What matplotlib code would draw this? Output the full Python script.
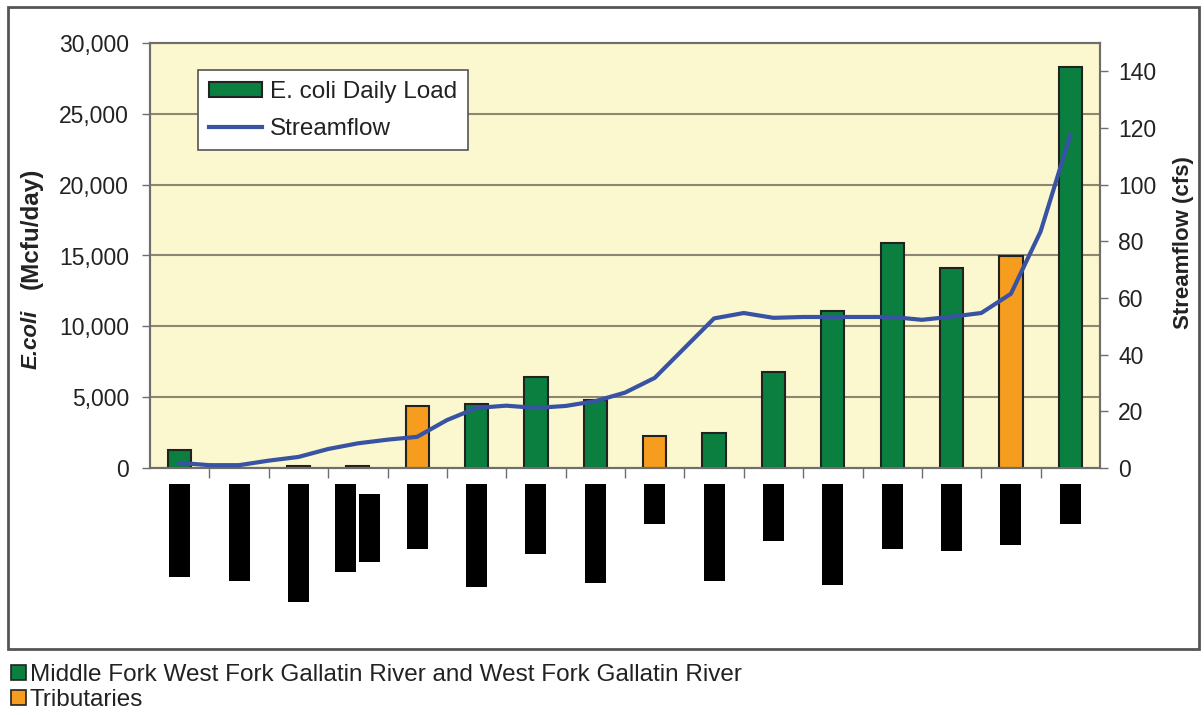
import matplotlib
matplotlib.use('Agg')
import matplotlib.pyplot as plt
from matplotlib.patches import Patch, Rectangle
from matplotlib.lines import Line2D
from matplotlib.ticker import FuncFormatter, FixedLocator

plt.rcParams['font.family'] = ['Liberation Sans', 'DejaVu Sans']

# ---------------- data ----------------
# site names are redacted (black blocks) in the source
site_index = [0, 1, 2, 3, 4, 5, 6, 7, 8, 9, 10, 11, 12, 13, 14, 15]
ecoli_load = [1300, 0, 150, 150, 4400, 4500, 6400, 4800, 2250, 2500,
              6800, 11100, 15850, 14150, 14950, 28300]
site_group = ['main', 'main', 'main', 'main', 'trib', 'main', 'main', 'main',
              'trib', 'main', 'main', 'main', 'main', 'main', 'trib', 'main']
flow_pos = [0, 0.5, 1, 1.5, 2, 2.5, 3, 3.5, 4, 4.5, 5, 5.5, 6, 6.5, 7, 7.5,
            8, 8.5, 9, 9.5, 10, 10.5, 11, 11.5, 12, 12.5, 13, 13.5, 14, 14.5, 15]
streamflow = [1.8, 1.0, 1.0, 2.6, 3.9, 6.7, 8.7, 10.0, 11.0, 16.9, 21.2, 22.0,
              21.2, 21.9, 23.6, 26.6, 31.8, 42.3, 52.8, 54.7, 53.0, 53.3, 53.3,
              53.3, 53.3, 52.3, 53.4, 54.7, 61.5, 83.5, 117.5]
# redacted label block lengths (rotated label text lengths)
label_len = [93, 97, 118, 88, 65, 103, 70, 99, 40, 97, 57, 101, 65, 67, 61, 40]
label2_site = [3]
label2_offset = [10]
label2_len = [68]

left_ticks = [0, 5000, 10000, 15000, 20000, 25000, 30000]
right_ticks = [0, 20, 40, 60, 80, 100, 120, 140]

GREEN = '#0B7F3F'
ORANGE = '#F69C1E'
BLUE = '#3953A4'
BG = '#FBF8D0'
GRID = '#8C8672'
SPINE = '#6E6E6E'
TXT = '#222222'

W, H = 1204, 715
fig = plt.figure(figsize=(W / 100, H / 100), dpi=100)

def fx(px):
    return px / W

def fy(py):
    return 1 - py / H

# outer frame
fig.patches.append(Rectangle((fx(8), fy(649)), fx(1199) - fx(8), fy(7) - fy(649),
                             transform=fig.transFigure, fill=False,
                             edgecolor='#555555', linewidth=2, zorder=0))

ax = fig.add_axes([fx(150), fy(468), fx(1100) - fx(150), fy(43) - fy(468)])
ax.set_facecolor(BG)
colors = [GREEN if g == 'main' else ORANGE for g in site_group]
ax.bar(site_index, ecoli_load, width=0.39, color=colors, edgecolor='#222222',
       linewidth=1.5, zorder=3)
ax.set_xlim(-0.5, 15.5)
ax.set_ylim(0, 30000)
ax.yaxis.set_major_locator(FixedLocator(left_ticks))
ax.yaxis.set_major_formatter(FuncFormatter(lambda v, p: f'{int(v):,}'))
ax.grid(axis='y', color=GRID, linewidth=1.5, zorder=1)
ax.set_axisbelow(True)
ax.set_xticks([])
ax.set_xticks([i + 0.5 for i in site_index[:-1]], minor=True)
ax.tick_params(axis='x', which='minor', length=7, width=1, color=SPINE)
ax.tick_params(axis='y', labelsize=16.5, length=6, width=1, color=SPINE,
               pad=9, labelcolor=TXT)
for s in ax.spines.values():
    s.set_color(SPINE)
    s.set_linewidth(1.5)

ax2 = ax.twinx()
ax2.plot(flow_pos, streamflow, color=BLUE, linewidth=3, zorder=5)
ax2.set_ylim(0, 150)
ax2.yaxis.set_major_locator(FixedLocator(right_ticks))
ax2.tick_params(axis='y', labelsize=16.5, length=6, width=1, color=SPINE,
                pad=7, labelcolor=TXT)
for s in ax2.spines.values():
    s.set_color(SPINE)
    s.set_linewidth(1.5)

handles = [Patch(facecolor=GREEN, edgecolor='#222222', linewidth=1.5),
           Line2D([], [], color=BLUE, linewidth=3)]
leg = ax2.legend(handles, ['E. coli Daily Load', 'Streamflow'],
                 loc='upper left', bbox_to_anchor=(0.0505, 0.9365),
                 fontsize=17.5, frameon=True, fancybox=False, framealpha=1,
                 edgecolor='#555555', handlelength=2.2, handleheight=0.55,
                 labelspacing=0.6, handletextpad=0.3, borderpad=0.45,
                 borderaxespad=0)
leg.get_frame().set_linewidth(1.2)
for t in leg.get_texts():
    t.set_color(TXT)

# axis titles
fig.text(fx(31), fy(339), 'E.coli', rotation=90, ha='center', va='center',
         fontsize=16, fontweight='bold', fontstyle='italic', color=TXT)
fig.text(fx(31), fy(228), '(Mcfu/day)', rotation=90, ha='center', va='center',
         fontsize=17.5, fontweight='bold', color=TXT)
fig.text(fx(1183), fy(243), 'Streamflow (cfs)', rotation=90, ha='center',
         va='center', fontsize=16, fontweight='bold', color=TXT)

# redacted category labels
axl = fig.add_axes([fx(150), fy(624), fx(1100) - fx(150), fy(484) - fy(624)])
axl.set_xlim(-0.5, 15.5)
axl.set_ylim(140, 0)
axl.axis('off')
main_x = [i - 0.207 if i in label2_site else i for i in site_index]
axl.bar(main_x, label_len, width=0.354, bottom=0, color='black', align='center')
axl.bar([i + 0.19 for i in label2_site], label2_len, width=0.354,
        bottom=label2_offset, color='black', align='center')

# bottom legend
fleg = fig.legend([Patch(facecolor=GREEN, edgecolor='#222222', linewidth=1.2),
                   Patch(facecolor=ORANGE, edgecolor='#222222', linewidth=1.2)],
                  ['Middle Fork West Fork Gallatin River and West Fork Gallatin River',
                   'Tributaries'],
                  loc='upper left', bbox_to_anchor=(fx(11), fy(664)),
                  fontsize=17.5, frameon=False, handlelength=0.6,
                  handleheight=0.6, handletextpad=0.17, labelspacing=0.13,
                  borderpad=0, borderaxespad=0)
for t in fleg.get_texts():
    t.set_color(TXT)

fig.savefig('out.png', dpi=100)
